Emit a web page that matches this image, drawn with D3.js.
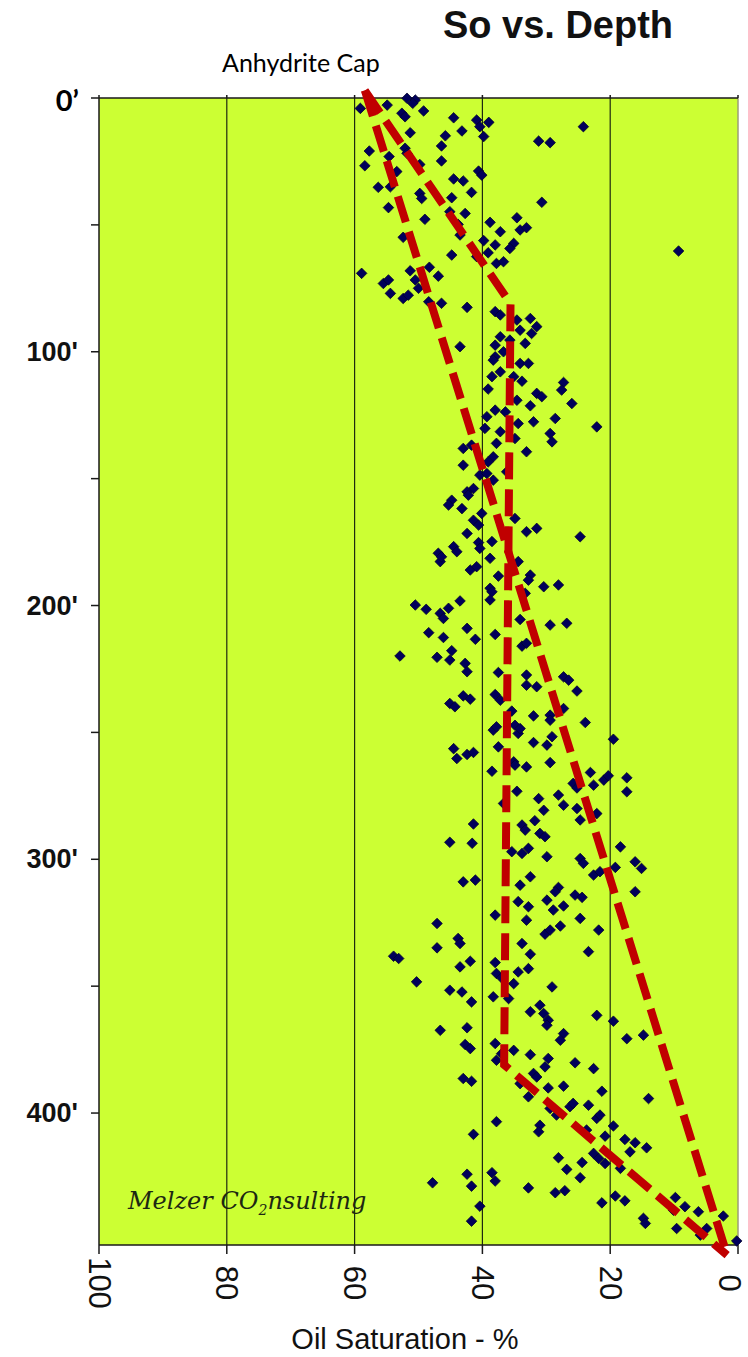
<!DOCTYPE html>
<html>
<head>
<meta charset="utf-8">
<script src="https://cdn.jsdelivr.net/npm/d3@7"></script>
<style>
  body { margin: 0; background: #fff; }
</style>
</head>
<body>
<div id="chart"></div>
<script>
// So (%) vs depth (ft) samples
const band0to55 = [[59.1,4.1],[54.9,2.8],[51.8,0.1],[50.5,0.8],[50.9,2.1],[52.6,6.0],[52.1,7.4],[49.2,5.1],[44.5,7.8],[40.9,8.7],[40.4,11.3],[39.0,9.6],[39.8,15.2],[51.3,13.7],[45.8,14.9],[43.2,13.0],[46.4,18.9],[57.7,20.9],[52.1,19.8],[51.8,21.8],[54.6,23.1],[58.4,26.7],[49.8,26.2],[46.4,24.8],[53.4,29.0],[40.6,28.8],[40.1,30.4],[44.5,31.9],[43.0,32.7],[56.3,35.2],[54.4,35.0],[41.7,37.2],[49.8,37.6],[49.5,39.6],[44.8,39.3],[54.7,43.2],[45.1,44.8],[42.7,45.5],[49.0,47.8],[43.8,49.8],[38.8,49.0],[37.2,52.7],[34.6,47.2],[34.1,52.0],[33.1,51.1],[24.2,11.3],[31.2,17.0],[29.4,17.6],[30.7,41.1]];
const band55to110 = [[52.4,54.9],[43.5,54.0],[39.8,56.2],[38.0,57.9],[39.1,61.0],[35.1,57.3],[35.7,59.3],[44.8,61.9],[40.9,62.5],[37.8,65.2],[36.7,64.5],[9.3,60.3],[58.9,69.1],[51.3,68.1],[48.3,66.7],[46.9,70.2],[55.5,73.1],[54.7,71.7],[50.5,71.7],[50.0,75.0],[54.4,77.0],[52.4,79.0],[51.6,77.7],[48.4,80.3],[46.4,80.9],[42.4,82.5],[38.0,84.2],[37.2,85.5],[34.6,87.5],[32.5,86.9],[31.5,90.1],[32.3,92.8],[33.3,96.7],[34.1,91.5],[37.2,94.1],[38.0,97.4],[35.7,95.4],[36.7,100.0],[38.0,102.0],[38.3,103.3],[43.5,98.0],[34.1,104.6],[32.8,104.6],[37.2,107.9],[38.5,109.8],[35.1,109.8]];
const band110to168 = [[33.8,111.6],[39.1,114.7],[27.3,112.1],[27.6,115.1],[31.5,116.4],[30.7,117.7],[34.6,119.1],[26.0,120.4],[32.5,121.3],[38.0,123.0],[36.4,123.7],[39.3,125.6],[32.0,127.6],[28.6,126.3],[34.4,128.3],[22.1,129.6],[39.6,130.2],[37.2,131.5],[29.4,132.2],[29.1,135.5],[34.9,134.2],[37.8,136.1],[43.0,138.1],[41.7,136.8],[33.1,139.4],[38.3,141.4],[39.1,143.4],[43.0,144.7],[36.2,147.3],[40.4,148.6],[39.3,148.0],[38.3,150.6],[41.4,153.9],[42.4,155.2],[42.2,156.5],[44.8,158.5],[45.3,160.4],[43.2,161.8],[40.1,163.7],[41.4,166.4],[34.9,165.7]];
const band168to225 = [[40.6,168.3],[33.1,170.9],[31.5,169.6],[24.7,172.9],[42.4,171.6],[40.6,175.2],[40.4,177.5],[38.5,174.8],[44.5,176.8],[44.0,178.8],[46.9,179.4],[46.6,182.7],[46.4,180.8],[38.8,181.4],[34.4,182.7],[41.9,186.0],[40.9,184.7],[37.5,188.4],[32.5,188.0],[32.8,190.0],[30.4,192.6],[28.1,191.9],[38.8,193.2],[38.5,194.6],[38.8,197.8],[33.3,195.2],[50.5,199.8],[48.8,201.5],[46.6,203.1],[45.3,201.1],[46.1,205.1],[43.5,198.2],[34.1,205.5],[29.4,207.7],[26.8,207.0],[48.4,210.7],[42.4,209.0],[38.0,211.4],[46.1,212.6],[41.1,213.3],[33.8,216.0],[33.1,214.9],[52.9,219.9],[47.1,220.4],[44.8,217.8],[45.1,221.5],[42.7,222.8]];
const band225to283 = [[42.4,226.1],[37.5,226.4],[33.1,227.4],[33.1,231.4],[31.5,232.0],[27.3,228.1],[26.5,229.4],[25.2,233.7],[43.0,235.6],[41.9,236.9],[45.1,238.6],[44.3,239.9],[38.0,235.1],[37.2,237.3],[35.4,241.6],[32.0,243.5],[29.4,243.2],[29.4,245.2],[27.3,240.6],[23.9,246.1],[38.3,249.1],[37.8,247.8],[34.9,247.2],[34.4,250.4],[34.1,248.5],[32.0,254.0],[29.9,255.0],[29.1,251.7],[37.5,255.7],[44.5,256.4],[44.0,260.3],[42.4,258.7],[41.4,257.9],[19.5,252.7],[35.1,261.6],[34.9,262.9],[33.1,263.6],[29.4,261.9],[38.5,265.3],[23.1,265.8],[25.8,270.1],[25.2,271.9],[22.6,270.8],[21.0,268.8],[20.3,267.1],[17.4,267.9],[17.4,273.4],[34.6,273.2],[31.2,276.1],[30.4,280.7],[28.1,274.7],[27.3,278.7],[36.7,278.0],[25.2,280.0],[22.1,282.0]];
const band283to340 = [[24.7,284.5],[41.4,286.1],[33.8,286.5],[33.3,288.5],[31.8,284.8],[31.0,289.8],[30.2,291.1],[45.1,293.3],[41.6,293.7],[32.8,295.7],[33.8,297.7],[35.4,297.0],[29.9,299.0],[24.7,299.7],[24.2,301.6],[18.4,295.1],[19.2,303.2],[16.1,301.0],[15.1,303.6],[22.6,306.2],[21.6,304.9],[32.5,306.9],[43.0,308.9],[41.1,308.2],[34.1,310.2],[28.1,311.1],[28.6,312.8],[25.5,314.1],[24.4,315.0],[16.1,312.8],[34.4,316.7],[32.8,318.7],[29.9,316.1],[27.3,318.4],[28.9,320.0],[38.0,322.0],[33.1,324.0],[24.7,323.3],[47.1,325.3],[30.2,329.5],[29.4,327.9],[27.8,326.3],[21.8,327.9],[43.8,331.2],[43.5,333.2],[47.1,334.9],[33.8,333.2],[32.5,337.4],[23.4,336.4],[53.9,338.2],[53.1,339.1]];
const band340to395 = [[41.9,340.2],[43.5,342.4],[38.0,340.7],[37.8,345.0],[37.0,346.7],[35.1,349.0],[32.8,343.1],[34.4,344.4],[50.3,348.3],[45.1,351.6],[43.2,352.3],[41.7,356.2],[38.3,354.2],[35.9,354.9],[29.1,350.3],[31.0,357.5],[32.5,360.1],[30.4,360.8],[29.7,363.4],[29.9,365.4],[22.1,361.5],[19.5,363.8],[27.3,368.7],[27.8,371.3],[17.4,370.7],[14.8,369.3],[46.6,367.4],[42.4,366.4],[42.7,373.0],[41.9,374.6],[38.0,372.6],[35.1,375.3],[37.0,376.6],[37.8,379.2],[32.5,377.0],[29.7,378.5],[30.2,381.8],[32.0,384.4],[31.5,385.8],[25.5,380.2],[22.6,382.5],[43.0,386.4],[41.7,387.5],[34.1,388.4],[29.7,390.1],[27.3,389.4],[21.3,391.4],[32.8,393.6],[14.0,394.3]];
const band395to452 = [[29.4,398.2],[28.4,400.8],[26.3,397.5],[25.8,396.2],[23.4,396.9],[37.8,403.4],[41.4,408.4],[31.0,404.8],[31.2,407.4],[23.7,406.7],[22.1,402.1],[21.6,400.8],[19.5,405.1],[20.8,409.1],[17.7,410.4],[16.1,411.7],[16.9,415.3],[14.3,413.7],[22.6,415.9],[21.8,417.9],[20.8,419.9],[28.1,417.6],[24.4,419.5],[18.4,421.8],[26.8,422.2],[24.7,425.5],[42.4,424.1],[41.7,428.8],[38.5,423.5],[38.0,426.8],[47.8,427.5],[32.8,429.5],[28.6,431.4],[27.1,430.6],[21.3,435.4],[19.2,432.7],[17.7,434.6],[40.4,436.7],[41.7,442.6],[9.8,433.3],[10.1,438.3],[8.3,436.9],[6.2,438.9],[14.8,441.5],[14.5,443.5],[9.6,445.5],[5.9,448.1],[4.9,445.5],[2.3,440.6],[0.2,450.4]];

// hand-drawn trend lines [So %, depth ft]
const trendOuter = [[58.4,-3],[1.7,456]];
const trendInner = [[58.4,-3],[35.6,81],[36.6,381],[1.7,456]];

const xTicks = [100, 80, 60, 40, 20, 0];
const depthLabels = [100, 200, 300, 400];
const depthTicks = [0, 50, 100, 150, 200, 250, 300, 350, 400];

const samples = [].concat(band0to55, band55to110, band110to168, band168to225,
  band225to283, band283to340, band340to395, band395to452);

const width = 748, height = 1357;
const svg = d3.select("#chart").append("svg")
  .attr("width", width).attr("height", height);

const x = d3.scaleLinear().domain([100, 0]).range([99, 738]);
const y = d3.scaleLinear().domain([0, 452]).range([98, 1245]);

// plot background
svg.append("rect")
  .attr("x", x(100)).attr("y", y(0))
  .attr("width", x(0) - x(100)).attr("height", y(452) - y(0))
  .attr("fill", "#ccff33");

// vertical gridlines
svg.selectAll(".grid").data([80, 60, 40, 20]).enter().append("line")
  .attr("x1", d => x(d)).attr("x2", d => x(d))
  .attr("y1", y(0)).attr("y2", y(452))
  .attr("stroke", "#1e2a10").attr("stroke-width", 1.2);

// right edge
svg.append("line")
  .attr("x1", x(0)).attr("x2", x(0)).attr("y1", y(0)).attr("y2", y(452))
  .attr("stroke", "#9c9c78").attr("stroke-width", 1.5);

// frame: left, top, bottom
svg.append("path")
  .attr("d", `M${x(100)},${y(0)}V${y(452)}M${x(100)},${y(0)}H${x(0)}M${x(100)},${y(452)}H${x(0)}`)
  .attr("stroke", "#1a1a1a").attr("stroke-width", 1.5).attr("fill", "none");

// x ticks top and bottom
svg.selectAll(".xt").data(xTicks).enter().append("line")
  .attr("x1", d => x(d)).attr("x2", d => x(d))
  .attr("y1", y(452)).attr("y2", y(452) + 9)
  .attr("stroke", "#1a1a1a").attr("stroke-width", 1.5);
svg.selectAll(".xtt").data(xTicks).enter().append("line")
  .attr("x1", d => x(d)).attr("x2", d => x(d))
  .attr("y1", y(0) - 3).attr("y2", y(0))
  .attr("stroke", "#1a1a1a").attr("stroke-width", 1.5);

// depth ticks
svg.selectAll(".yt").data(depthTicks).enter().append("line")
  .attr("x1", x(100) - 8).attr("x2", x(100))
  .attr("y1", d => y(d)).attr("y2", d => y(d))
  .attr("stroke", "#1a1a1a").attr("stroke-width", 1.5);

// x tick labels, turned a quarter (last one nudged in so it stays on the page)
svg.selectAll(".xl").data(xTicks).enter().append("text")
  .attr("transform", d => `translate(${Math.min(x(d), 729)},1283) rotate(90)`)
  .attr("text-anchor", "middle")
  .attr("dominant-baseline", "central")
  .style("font-family", "'Liberation Sans', Arial, sans-serif")
  .style("font-size", "31px")
  .style("fill", "#111")
  .text(d => d);

// depth labels
svg.selectAll(".yl").data(depthLabels).enter().append("text")
  .attr("x", 78).attr("y", d => y(d))
  .attr("text-anchor", "end")
  .attr("dominant-baseline", "central")
  .style("font-family", "'Liberation Sans', Arial, sans-serif")
  .style("font-weight", "bold")
  .style("font-size", "27px")
  .style("fill", "#111")
  .text(d => d + "'");

svg.append("text")
  .attr("x", 79).attr("y", y(0) + 1)
  .attr("text-anchor", "end")
  .attr("dominant-baseline", "central")
  .style("font-family", "Lato, 'Open Sans', sans-serif")
  .style("font-weight", "bold")
  .style("font-size", "29px")
  .style("fill", "#000")
  .text("0’");

// watermark
const mark = svg.append("text")
  .attr("x", 128).attr("y", 1209)
  .style("font-family", "'DejaVu Serif', serif")
  .style("font-style", "italic")
  .style("font-size", "24px")
  .style("fill", "#1c2812");
mark.append("tspan").text("Melzer CO");
mark.append("tspan").attr("dy", 6).style("font-size", "14px").text("2");
mark.append("tspan").attr("dy", -6).text("nsulting");

// samples as diamonds
svg.selectAll(".pt").data(samples).enter().append("path")
  .attr("d", d3.symbol(d3.symbolSquare, 56))
  .attr("transform", d => `translate(${x(d[0])},${y(d[1])}) rotate(45)`)
  .attr("fill", "#00005a")
  .attr("stroke", "#000028")
  .attr("stroke-width", 0.7);

// dashed trend lines
const line = d3.line().x(d => x(d[0])).y(d => y(d[1]));
svg.selectAll(".trend").data([trendOuter, trendInner]).enter().append("path")
  .attr("d", line)
  .attr("fill", "none")
  .attr("stroke", "#c00000")
  .attr("stroke-width", 8)
  .attr("stroke-dasharray", "27,10")
  .attr("stroke-linejoin", "miter");

// titles
svg.append("text")
  .attr("x", 558).attr("y", 38)
  .attr("text-anchor", "middle")
  .style("font-family", "'Liberation Sans', Arial, sans-serif")
  .style("font-weight", "bold")
  .style("font-size", "38px")
  .style("fill", "#111")
  .text("So vs. Depth");

svg.append("text")
  .attr("x", 222).attr("y", 72)
  .style("font-family", "Lato, 'Open Sans', sans-serif")
  .style("font-size", "25px")
  .style("fill", "#000")
  .text("Anhydrite Cap");

svg.append("text")
  .attr("x", 405).attr("y", 1349)
  .attr("text-anchor", "middle")
  .style("font-family", "'Liberation Sans', Arial, sans-serif")
  .style("font-size", "29px")
  .style("fill", "#111")
  .text("Oil Saturation - %");
</script>
</body>
</html>
